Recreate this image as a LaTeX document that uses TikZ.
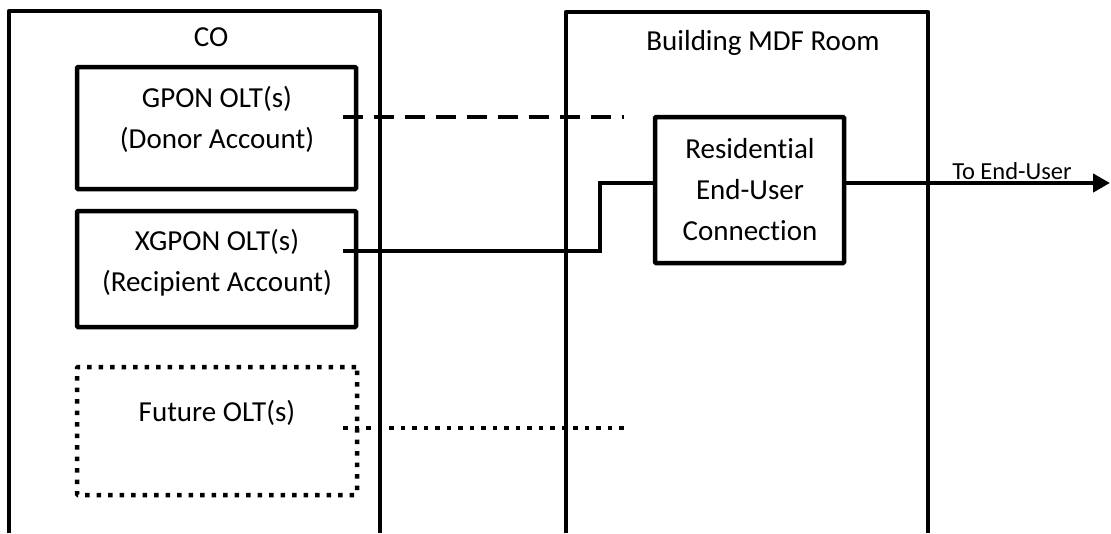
\documentclass[tikz,border=0pt]{standalone}
\usepackage{fontspec}
\setmainfont{Carlito}[Ligatures=NoCommon]
\usetikzlibrary{arrows.meta}

\tikzset{
  room/.style={line width=4.8pt, line join=round},
  oltbox/.style={draw, line width=4.5pt, rounded corners=1pt, minimum width=279pt, inner sep=0pt},
  dotbox/.style={oltbox, dash pattern=on 4.5pt off 7pt},
  link/.style={line width=4.5pt},
  dashlink/.style={line width=4.5pt, dash pattern=on 20pt off 11pt},
  dotlink/.style={line width=4.5pt, dash pattern=on 4.5pt off 7pt},
  lbl/.style={align=center, font=\fontsize{29}{41}\selectfont}
}

\begin{document}
\begin{tikzpicture}[x=1pt,y=-1pt]
   \useasboundingbox (0,0) rectangle (1111,533);

   \draw[room] (9,533) -- (9,11) -- (380,11) -- (380,533);
   \draw[room] (566,533) -- (566,12) -- (928,12) -- (928,533);
   \draw (211,37) node[lbl] (co) {CO};
   \draw (763,43) node[lbl] (mdf) {Building MDF Room};

   \draw (216.5,128) node[oltbox, minimum height=122pt] (gpon) {};
   \draw (217,119.5) node[lbl] (gponlbl) {GPON OLT(s)\\(Donor Account)};
   \draw (216.5,269) node[oltbox, minimum height=116pt] (xgpon) {};
   \draw (217,262.5) node[lbl] (xgponlbl) {XGPON OLT(s)\\(Recipient Account)};
   \draw (217,431) node[dotbox, minimum height=128pt, minimum width=280pt] (future) {};
   \draw (217,413) node[lbl] (futurelbl) {Future OLT(s)};

   \draw (749.5,190) node[oltbox, minimum width=189pt, minimum height=146pt] (res) {};
   \draw (750,189.5) node[lbl] (reslbl) {Residential\\End-User\\Connection};

   \coordinate (gponout) at (343,117);
   \coordinate (gponend) at (624,117);
   \coordinate (xgponout) at (343,251);
   \coordinate (resin) at (res.west |- 0,183);
   \coordinate (resout) at (res.east |- 0,183);
   \coordinate (enduser) at (1110,183);
   \coordinate (futureout) at (343,428);
   \coordinate (futureend) at (624,428);

   \draw[dashlink] (gponout) -- (gponend);
   \draw[link] (xgponout) -- ++(257,0) |- (resin);
   \draw[dotlink] (futureout) -- (futureend);
   \draw[link, -{Triangle[length=17pt, width=18pt]}] (resout) -- (enduser);
   \draw (1012,179) node[anchor=base, inner sep=0pt, font=\fontsize{24.5}{28}\selectfont] (tolbl) {To End-User};
\end{tikzpicture}
\end{document}
